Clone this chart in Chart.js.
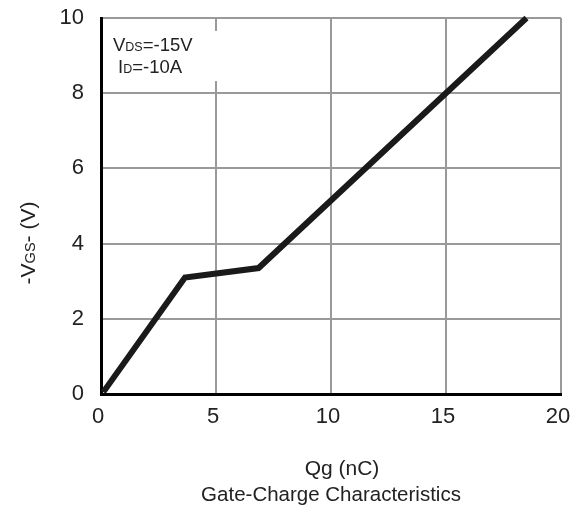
<!DOCTYPE html>
<html>
<head>
<meta charset="utf-8">
<script src="https://cdn.jsdelivr.net/npm/chart.js@4"></script>
<style>
  body { margin: 0; background: #fff; }
  #wrap { width: 578px; height: 514px; }
</style>
</head>
<body>
<div id="wrap"><canvas id="gateChart" width="578" height="514"></canvas></div>
<script>
// gate charge curve
var qgValues = [0.1, 3.65, 6.85, 18.5];
var vgsValues = [0.05, 3.1, 3.35, 10];
var xTicks = [0, 5, 10, 15, 20];
var yTicks = [0, 2, 4, 6, 8, 10];

var font = "'Liberation Sans', Arial, sans-serif";

var points = [];
for (var i = 0; i < qgValues.length; i++) {
	points.push({ x: qgValues[i], y: vgsValues[i] });
}

// draws text with a subscript part: parts = [[text, isSub], ...]
function drawParts(ctx, parts, x, y, big, small) {
	for (var i = 0; i < parts.length; i++) {
		var sub = parts[i][1];
		ctx.font = (sub ? small : big) + 'px ' + font;
		ctx.fillText(parts[i][0], x, y);
		x += ctx.measureText(parts[i][0]).width;
	}
	return x;
}
function partsWidth(ctx, parts, big, small) {
	var w = 0;
	for (var i = 0; i < parts.length; i++) {
		ctx.font = (parts[i][1] ? small : big) + 'px ' + font;
		w += ctx.measureText(parts[i][0]).width;
	}
	return w;
}

var labelsPlugin = {
	id: 'labels',
	beforeDatasetsDraw: function(chart) {
		var ctx = chart.ctx;
		ctx.save();
		// white box behind the test condition text
		ctx.fillStyle = '#fff';
		ctx.fillRect(104, 31, 120, 50);
		ctx.fillStyle = '#222';
		ctx.textBaseline = 'alphabetic';
		ctx.textAlign = 'left';
		drawParts(ctx, [['V', false], ['DS', true], ['=-15V', false]], 113, 51, 18.5, 12.5);
		drawParts(ctx, [['I', false], ['D', true], ['=-10A', false]], 118, 73, 18.5, 12.5);
		ctx.restore();
	},
	afterDraw: function(chart) {
		var ctx = chart.ctx;
		var area = chart.chartArea;
		var cx = (area.left + area.right) / 2;
		ctx.save();
		ctx.fillStyle = '#222';
		ctx.textAlign = 'center';
		ctx.textBaseline = 'alphabetic';
		ctx.font = '21px ' + font;
		ctx.fillText('Qg (nC)', cx + 11, 475);
		ctx.font = '20.5px ' + font;
		ctx.fillText('Gate-Charge Characteristics', cx, 501);

		// rotated y title with subscript
		var yt = [['-V', false], ['GS', true], ['- (V)', false]];
		var w = partsWidth(ctx, yt, 21, 14.5);
		ctx.translate(35, 243);
		ctx.rotate(-Math.PI / 2);
		ctx.textAlign = 'left';
		drawParts(ctx, yt, -w / 2, 0, 21, 14.5);
		ctx.restore();
	}
};

new Chart(document.getElementById('gateChart'), {
	type: 'line',
	data: {
		datasets: [{
			data: points,
			borderColor: '#1a1a1a',
			borderWidth: 6,
			pointRadius: 0,
			fill: false,
			tension: 0,
			clip: false
		}]
	},
	options: {
		responsive: false,
		animation: false,
		devicePixelRatio: 1,
		layout: { padding: { left: 0, top: 18, right: 17, bottom: 0 } },
		plugins: {
			legend: { display: false },
			tooltip: { enabled: false }
		},
		scales: {
			x: {
				type: 'linear',
				min: 0,
				max: 20,
				afterBuildTicks: function(s) { s.ticks = xTicks.map(function(v) { return { value: v }; }); },
				afterFit: function(s) { s.height = 120; s.paddingLeft = 0; s.paddingRight = 0; },
				grid: { color: '#999', lineWidth: 2, drawTicks: false },
				border: { color: '#000', width: 3 },
				ticks: { color: '#222', font: { family: font, size: 22 }, padding: 10, maxRotation: 0, labelOffset: -3 }
			},
			y: {
				type: 'linear',
				min: 0,
				max: 10,
				afterBuildTicks: function(s) { s.ticks = yTicks.map(function(v) { return { value: v }; }); },
				afterFit: function(s) { s.width = 101; s.paddingTop = 0; s.paddingBottom = 0; },
				grid: { color: '#999', lineWidth: 2, drawTicks: false },
				border: { color: '#000', width: 3 },
				ticks: { color: '#222', font: { family: font, size: 22 }, padding: 17 }
			}
		}
	},
	plugins: [labelsPlugin]
});
</script>
</body>
</html>
